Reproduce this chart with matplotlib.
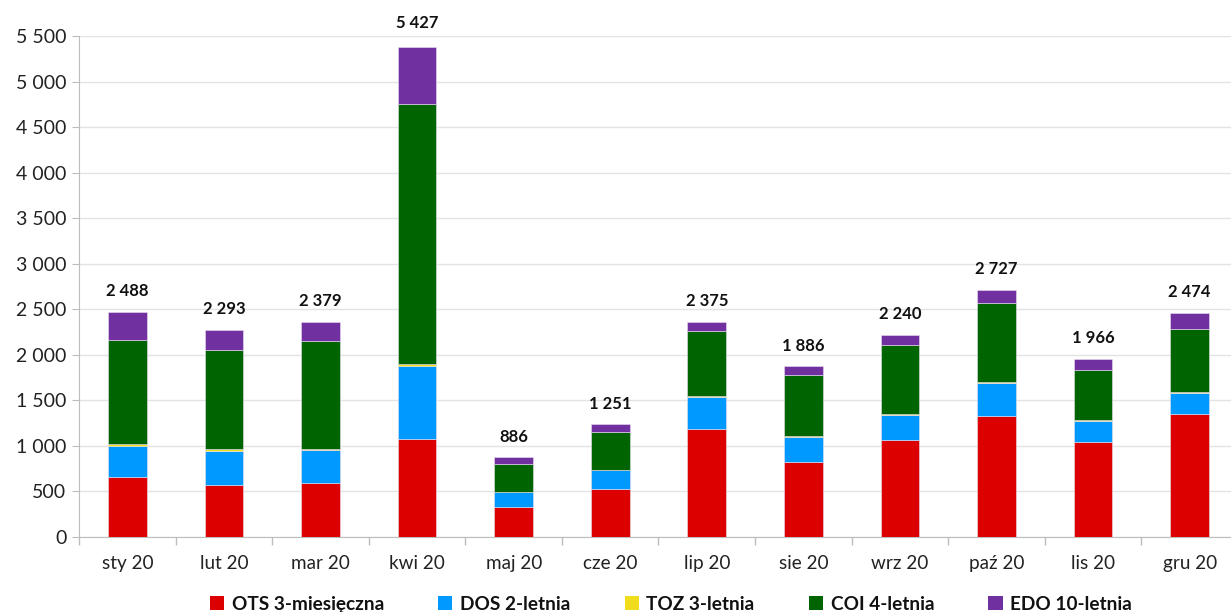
import matplotlib
matplotlib.use("Agg")
import matplotlib.pyplot as plt
import numpy as np
from matplotlib.ticker import FuncFormatter, FixedLocator
from matplotlib.patches import Patch

plt.rcParams["font.family"] = ["Lato", "DejaVu Sans"]

months = ["sty 20", "lut 20", "mar 20", "kwi 20", "maj 20", "cze 20",
          "lip 20", "sie 20", "wrz 20", "paź 20", "lis 20", "gru 20"]

ots = [655, 568, 597, 1073, 329, 531, 1190, 820, 1062, 1329, 1043, 1351]
dos = [348, 376, 358, 805, 165, 206, 352, 275, 278, 359, 231, 234]
toz = [15, 22, 11, 25, 3, 3, 4, 11, 11, 18, 11, 7]
coi = [1142, 1088, 1186, 2849, 308, 417, 715, 673, 754, 867, 549, 692]
edo = [307, 216, 209, 632, 73, 84, 99, 95, 117, 139, 117, 173]

totals = [2488, 2293, 2379, 5427, 886, 1251, 2375, 1886, 2240, 2727, 1966, 2474]

series = [
    ("OTS 3-miesięczna", ots, "#DD0000"),
    ("DOS 2-letnia", dos, "#0099FF"),
    ("TOZ 3-letnia", toz, "#F2DC1E"),
    ("COI 4-letnia", coi, "#006400"),
    ("EDO 10-letnia", edo, "#7030A0"),
]


def thousands(v, pos):
    return f"{int(v):,}".replace(",", " ")


fig = plt.figure(figsize=(12.31, 6.12), dpi=100)
ax = fig.add_axes([79 / 1231, 75 / 612, 1159 / 1231, 501 / 612])

x = np.arange(len(months))
bottom = np.zeros(len(months))
for name, vals, col in series:
    vals = np.array(vals, dtype=float)
    ax.bar(x, vals, bottom=bottom, width=0.40, color=col,
           edgecolor="#e8e0f0", linewidth=0.4, zorder=3)
    bottom += vals

# total labels sit a bit above the stated total
for xi, tot in zip(x, totals):
    ax.annotate(thousands(tot, None), (xi, tot), xytext=(0, 14),
                textcoords="offset points", ha="center", va="center",
                fontsize=12, fontweight="bold", color="#111111",
                annotation_clip=False)

ax.set_xlim(-0.5, len(months) - 0.5)
ax.set_ylim(0, 5500)
ax.set_yticks(np.arange(0, 5501, 500))
ax.yaxis.set_major_formatter(FuncFormatter(thousands))
ax.grid(axis="y", color="#e3e3e3", linewidth=1, zorder=0)

ax.set_xticks(x)
ax.set_xticklabels(months)
ax.xaxis.set_minor_locator(FixedLocator(np.arange(-0.5, len(months), 1.0)))
ax.tick_params(axis="x", which="major", length=0, pad=13, labelsize=13.6,
               labelcolor="#222222")
ax.tick_params(axis="x", which="minor", length=6, color="#bdbdbd", width=1)
ax.tick_params(axis="y", length=5, color="#bdbdbd", labelsize=14,
               labelcolor="#222222", pad=4)

for s in ["top", "right"]:
    ax.spines[s].set_visible(False)
ax.spines["left"].set_color("#bdbdbd")
ax.spines["bottom"].set_color("#bdbdbd")

handles = [Patch(facecolor=c, edgecolor="none", label=n) for n, _, c in series]
leg = fig.legend(handles=handles, loc="center", bbox_to_anchor=(0.545, 0.013),
                 ncol=5, frameon=False, handlelength=0.75,
                 handleheight=0.75, handletextpad=0.4, columnspacing=2.85,
                 prop={"weight": "bold", "size": 13.7})
for t in leg.get_texts():
    t.set_color("#111111")

fig.savefig("out.png", dpi=100)
